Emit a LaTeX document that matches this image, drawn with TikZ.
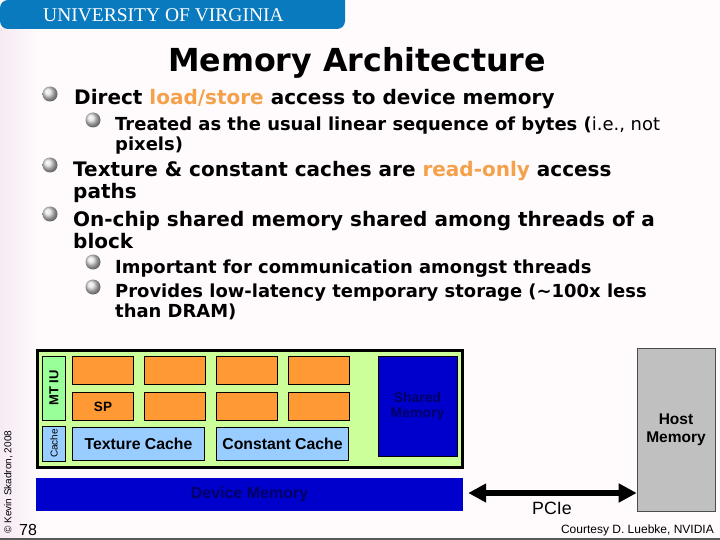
\documentclass[tikz,border=0pt]{standalone}
\usepackage{fontspec}
\setmainfont{DejaVu Sans}
\newfontfamily\headfont{Liberation Serif}
\newfontfamily\labelfont{Liberation Sans}
\usetikzlibrary{arrows.meta,positioning}
\definecolor{uvablue}{HTML}{0A7ABF}
\definecolor{slidebg}{HTML}{FFFBFC}
\definecolor{slidetint}{HTML}{F6EAF4}
\definecolor{hiorange}{HTML}{F5A04A}
\definecolor{spfill}{HTML}{FF9933}
\definecolor{tpcfill}{HTML}{CCFF99}
\definecolor{iufill}{HTML}{99FF99}
\definecolor{cachefill}{HTML}{99CCFF}
\definecolor{memfill}{HTML}{0000CC}
\definecolor{memtext}{HTML}{000066}
\definecolor{hostfill}{HTML}{C0C0C0}
\tikzset{
  ball/.style={circle, minimum size=#1, inner sep=0pt, ball color=white!75!gray},
  line1/.style={anchor=west, inner sep=0pt, align=left, font=\fontsize{20}{21.5}\selectfont\bfseries},
  line2/.style={anchor=west, inner sep=0pt, align=left, font=\fontsize{17.95}{20}\selectfont\bfseries},
  unitbox/.style={draw=black, line width=0.8pt, inner sep=0pt, font=\labelfont\bfseries\fontsize{15.8}{16}\selectfont},
}
\begin{document}
\begin{tikzpicture}[x=1pt, y=-1pt]
    \useasboundingbox (0,0) rectangle (720,540);
    \fill[slidebg] (0,0) rectangle (720,540);
    \fill[left color=slidetint, right color=slidebg] (0,29) rectangle (40,540);
    \fill[black!65] (0,538) rectangle (720,540);
    \fill[uvablue] (0,0) -- (345,0) -- (345,20) [rounded corners=8pt] -- (345,29) -- (0,29) -- cycle;
    \node[anchor=west, inner sep=0pt, text=white, font=\headfont\fontsize{19.5}{22}\selectfont] (head) at (43,15) {UNIVERSITY OF VIRGINIA};
    \node[inner sep=0pt, font=\fontsize{31.7}{38}\selectfont\bfseries] (title) at (357,63) {Memory Architecture};
    % bullets
    \node[ball=15pt] (b1) at (50,94) {};
    \node[ball=15pt] (b2) at (93,120) {};
    \node[ball=15pt] (b3) at (50,165) {};
    \node[ball=15pt] (b4) at (50,214) {};
    \node[ball=15pt] (b5) at (93,262) {};
    \node[ball=15pt] (b6) at (93,287) {};
    % text
    \node[line1] (t1) at (74,99.5) {Direct \textcolor{hiorange}{load/store} access to device memory};
    \node[line2, anchor=north west] (t2) at (115,116.5) {Treated as the usual linear sequence of bytes (\textmd{i.e., not}\\pixels)};
    \node[line1, anchor=north west] (t3) at (73,161.5) {Texture \& constant caches are \textcolor{hiorange}{read-only} access\\paths};
    \node[line1, anchor=north west] (t4) at (73,211.5) {On-chip shared memory shared among threads of a\\block};
    \node[line2] (t5) at (115,268.5) {Important for communication amongst threads};
    \node[line2, anchor=north west] (t6) at (115,283.5) {Provides low-latency temporary storage (\textasciitilde100x less\\than DRAM)};
    % block
    \node[draw=black, line width=3.5pt, fill=tpcfill, minimum width=425pt, minimum height=117pt, inner sep=0pt] (tpc) at (250,409) {};
    \node[unitbox, fill=iufill, minimum width=64pt, minimum height=22.5pt, rotate=90, font=\labelfont\bfseries\fontsize{13}{15}\selectfont] (iu) at (54,388) {MT IU};
    \node[unitbox, fill=cachefill, minimum width=22.5pt, minimum height=35pt, font=\labelfont\fontsize{10}{12}\selectfont] (icache) at (54,443.5) {\rotatebox{90}{Cache}};
    \foreach \col/\xx in {1/103,2/175,3/247,4/319} {
      \node[unitbox, fill=spfill, minimum width=61pt, minimum height=28.5pt] (spa\col) at (\xx,370.5) {};
      \node[unitbox, fill=spfill, minimum width=61pt, minimum height=28.5pt] (spb\col) at (\xx,406.5) {};
    }
    \node[inner sep=0pt, font=\labelfont\bfseries\fontsize{13.5}{15}\selectfont] (splabel) at (spb1.center) {SP};
    \node[unitbox, fill=cachefill, minimum width=132pt, minimum height=33pt] (tex) at (138.5,443.5) {Texture Cache};
    \node[unitbox, fill=cachefill, minimum width=132pt, minimum height=33pt] (const) at (282.5,443.5) {Constant Cache};
    \node[unitbox, fill=memfill, text=memtext, align=center, minimum width=79pt, minimum height=100pt, font=\labelfont\bfseries\fontsize{14}{15}\selectfont] (shared) at (417.5,406) {Shared\\Memory};
    \node[draw=none, fill=memfill, text=memtext, font=\labelfont\bfseries\fontsize{16}{18}\selectfont, minimum width=427pt, minimum height=33pt, inner sep=0pt] (device) at (249.5,494.5) {Device Memory};
    \node[draw=black!70, fill=hostfill, align=center, line width=0.6pt, inner sep=0pt, font=\labelfont\bfseries\fontsize{15.5}{18}\selectfont, minimum width=78pt, minimum height=163pt] (host) at (676,430) {Host\\Memory};
    % link
    \coordinate (linkl) at (device.east |- 0,493);
    \coordinate (linkr) at (host.west |- 0,493);
    \draw[{Triangle[length=18pt,width=18pt]}-{Triangle[length=18pt,width=18pt]}, line width=6pt] ([xshift=5pt]linkl) -- (linkr);
    \node[inner sep=0pt, font=\labelfont\fontsize{17.8}{20}\selectfont] (pcie) at (552,508) {PCIe};
    % footer
    \node[inner sep=0pt, rotate=90, anchor=west, font=\labelfont\fontsize{10}{12}\selectfont] (copy) at (8.5,534) {© Kevin Skadron, 2008};
    \node[inner sep=0pt, anchor=west, font=\labelfont\fontsize{16}{18}\selectfont] (page) at (19,530) {78};
    \node[inner sep=0pt, anchor=east, font=\labelfont\fontsize{12}{14}\selectfont] (credit) at (714,530) {Courtesy D. Luebke, NVIDIA};
\end{tikzpicture}
\end{document}
